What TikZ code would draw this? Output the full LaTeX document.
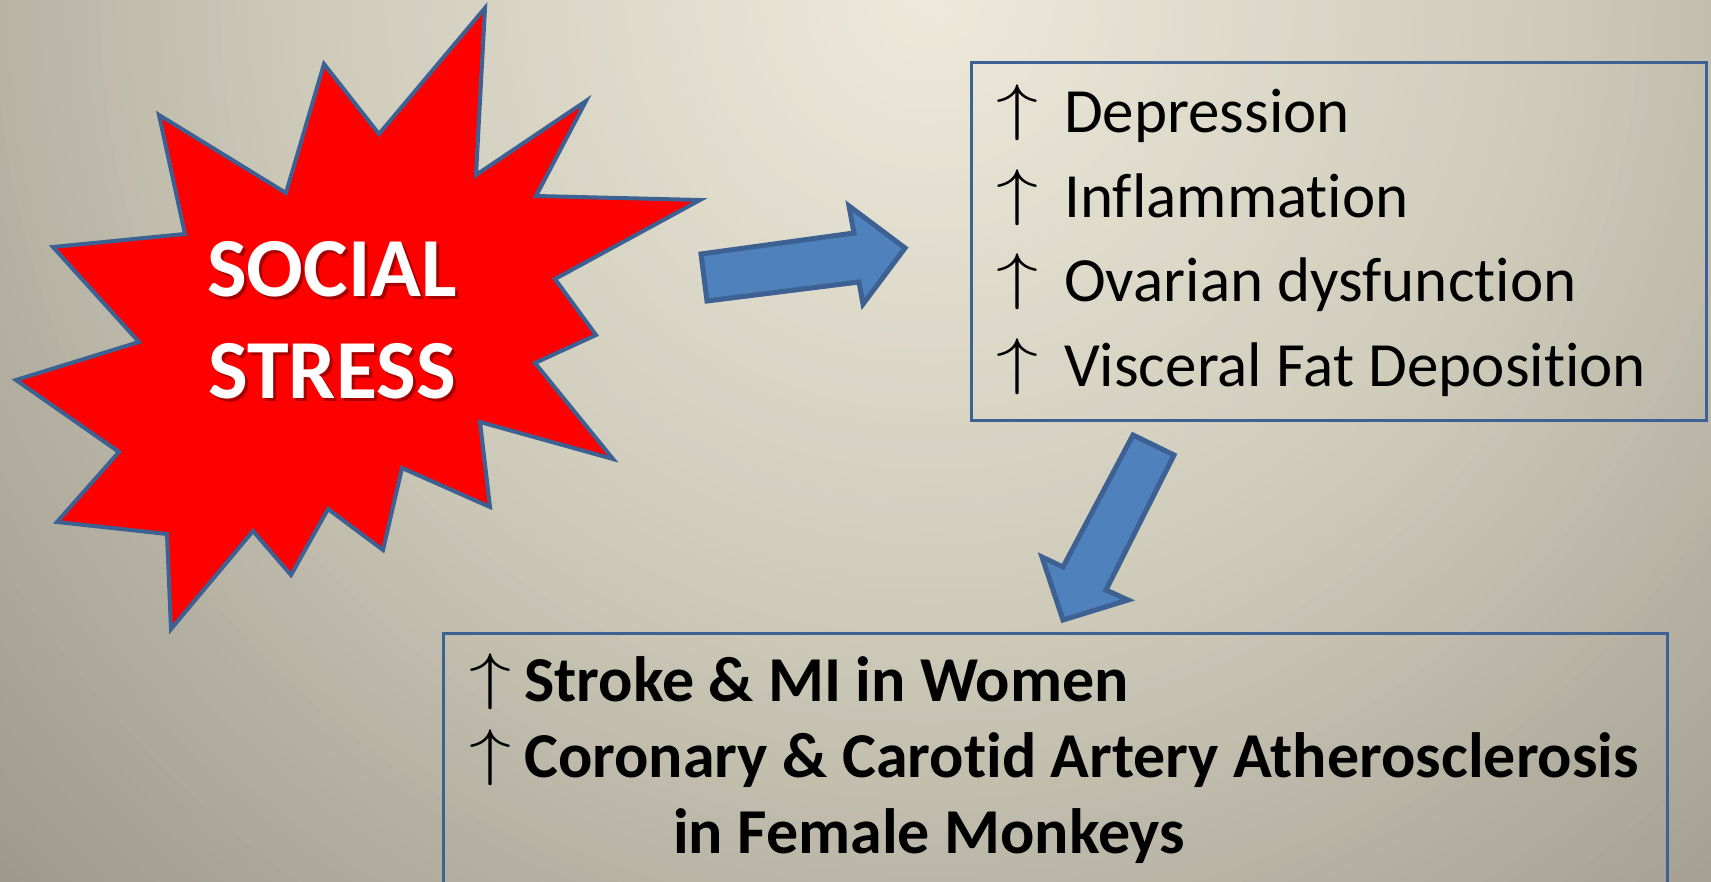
\RequirePackage{fix-cm}
\documentclass[tikz,border=0pt]{standalone}
\usepackage{fontspec}
\setmainfont{Carlito}[Ligatures={NoCommon}]
\usepackage{graphicx}
\definecolor{starred}{HTML}{FF0000}
\definecolor{edgeblue}{HTML}{3D6192}
\definecolor{arrowfill}{HTML}{4F81BD}
\definecolor{shadowred}{HTML}{6E0000}
\tikzset{
  starshape/.style={fill=starred, draw=edgeblue, line width=4pt, line join=miter},
  blockarrow/.style={fill=arrowfill, draw=edgeblue, line width=5pt, line join=miter},
  listbox/.style={draw=edgeblue, line width=3pt},
  bigtext/.style={font=\fontsize{84}{100}\selectfont\bfseries, text=white, inner sep=0pt, anchor=base},
  bigshadow/.style={font=\fontsize{84}{100}\selectfont\bfseries, text=shadowred, opacity=0.6, inner sep=0pt, anchor=base},
  itemtext/.style={font=\fontsize{63}{72}\selectfont, inner sep=0pt, anchor=base west},
  bolditem/.style={font=\fontsize{64}{72}\selectfont\bfseries, inner sep=0pt, anchor=base west},
  uparr/.style={font=\fontsize{60}{72}\selectfont, inner sep=0pt, anchor=base west},
}
\newcommand{\myup}{\raisebox{4pt}{\scalebox{1.4}[1.05]{$\uparrow$}}}
\begin{document}
\begin{tikzpicture}[x=1pt,y=-1pt]
\useasboundingbox (0,0) rectangle (1711,882);
\begin{scope}
\clip (0,0) rectangle (1711,882);
% background: radial gradient built from rings
\foreach \k in {0,...,97} {
  \pgfmathsetmacro{\rr}{1460-15*\k}
  \pgfmathsetmacro{\ta}{min(\rr/624,1)}
  \pgfmathsetmacro{\tb}{max(min((\rr-624)/676,1),0)}
  \pgfmathsetmacro{\cR}{(238 - 31*\ta - 51*\tb)/255}
  \pgfmathsetmacro{\cG}{(234 - 31*\ta - 51*\tb)/255}
  \pgfmathsetmacro{\cB}{(219 - 32*\ta - 49*\tb)/255}
  \definecolor{ringc}{rgb}{\cR,\cG,\cB}
  \fill[ringc] (930,0) circle (\rr);
}

% star
\draw[starshape] (485,8) -- (476,175) -- (586,101) -- (536,196) -- (700,200) -- (555,279) -- (596,335) -- (535,363) -- (613,459) -- (480,422) -- (490,507) -- (402,468) -- (383,550) -- (328,509) -- (291,575) -- (253,531) -- (171,629) -- (167,534) -- (57,522) -- (119,452) -- (16,380) -- (139,342) -- (53,247) -- (185,234) -- (159,115) -- (286,193) -- (324,64) -- (379,134) -- cycle;

% right block arrow
\draw[blockarrow] (701,254) -- (854,233) -- (849,206) -- (905,248) -- (863,304) -- (859,282) -- (707,301) -- cycle;

% down block arrow
\draw[blockarrow] (1133,435) -- (1174,455) -- (1106,590) -- (1128,600) -- (1063,620) -- (1042,557) -- (1063,567) -- cycle;

% boxes
\node[listbox, minimum width=735pt, minimum height=358pt, anchor=north west, inner sep=0pt] (box1) at (969.5,61.5) {};
\node[listbox, minimum width=1224pt, minimum height=280pt, anchor=north west, inner sep=0pt] (box2) at (442,632) {};

% SOCIAL STRESS
\node[bigshadow] (sh1) at (335,300) {SOCIAL};
\node[bigshadow] (sh2) at (335,402) {STRESS};
\node[bigtext] (t1) at (332,297) {SOCIAL};
\node[bigtext] (t2) at (332,399) {STRESS};

% box 1 items
\node[uparr] (a1) at (996,133) {\myup};
\node[itemtext] (l1) at (1064,133) {Depression};
\node[uparr] (a2) at (996,218) {\myup};
\node[itemtext] (l2) at (1064,218) {Inflammation};
\node[uparr] (a3) at (996,302) {\myup};
\node[itemtext] (l3) at (1064,302) {Ovarian dysfunction};
\node[uparr] (a4) at (996,387) {\myup};
\node[itemtext] (l4) at (1064,387) {Visceral Fat Deposition};

% box 2 items
\node[uparr] (b1) at (469,701) {\myup};
\node[bolditem] (m1) at (524,701) {Stroke \& MI in Women};
\node[uparr] (b2) at (469,777) {\myup};
\node[bolditem] (m2) at (524,777) {Coronary \& Carotid Artery Atherosclerosis};
\node[bolditem] (m3) at (673,853) {in Female Monkeys};
\end{scope}
\end{tikzpicture}
\end{document}
